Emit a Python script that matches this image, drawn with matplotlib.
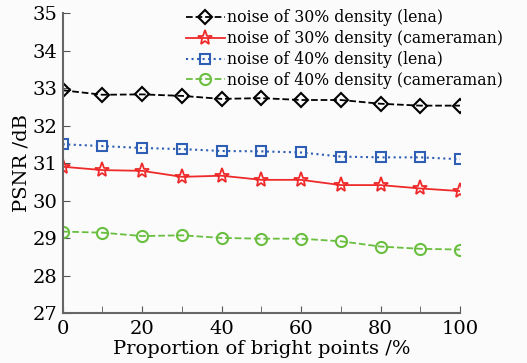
import numpy as np
import matplotlib
matplotlib.use('Agg')
import matplotlib.pyplot as plt
from matplotlib.ticker import MultipleLocator

plt.rcParams['font.family'] = ['DejaVu Serif']
plt.rcParams['mathtext.fontset'] = 'dejavuserif'

x = [0, 10, 20, 30, 40, 50, 60, 70, 80, 90, 100]
lena30 = [32.95, 32.83, 32.84, 32.80, 32.72, 32.74, 32.69, 32.69, 32.59, 32.54, 32.54]
cam30 = [30.91, 30.82, 30.80, 30.64, 30.67, 30.56, 30.56, 30.42, 30.42, 30.33, 30.26]
lena40 = [31.51, 31.46, 31.41, 31.38, 31.33, 31.32, 31.29, 31.18, 31.16, 31.16, 31.11]
cam40 = [29.18, 29.15, 29.06, 29.08, 29.01, 28.99, 28.99, 28.92, 28.78, 28.72, 28.70]

fig = plt.figure(figsize=(5.27, 3.63), dpi=100)
fig.patch.set_facecolor('#fbfbfb')
ax = fig.add_axes([0.119, 0.137, 0.754, 0.826])
ax.set_facecolor('#fbfbfb')

ax.plot(x, lena30, '--', color='black', marker='D', ms=7, mfc='none', mew=1.5, lw=1.3,
        label='noise of 30% density (lena)')
ax.plot(x, cam30, '-', color='#ee2a2a', marker='*', ms=11, mfc='none', mew=1.3, lw=1.3,
        label='noise of 30% density (cameraman)')
ax.plot(x, lena40, ':', color='#2e5fb5', marker='s', ms=7, mfc='none', mew=1.5, lw=1.5,
        label='noise of 40% density (lena)')
ax.plot(x, cam40, '--', color='#6abf40', marker='o', ms=8, mfc='none', mew=1.5, lw=1.3,
        label='noise of 40% density (cameraman)')

ax.set_xlim(0, 100)
ax.set_ylim(27, 35)
ax.xaxis.set_major_locator(MultipleLocator(20))
ax.xaxis.set_minor_locator(MultipleLocator(10))
ax.yaxis.set_major_locator(MultipleLocator(1))
ax.tick_params(which='both', direction='in', top=False, right=False, labelsize=14, color='#555555')
ax.tick_params(which='major', length=5)
ax.tick_params(which='minor', length=5)
ax.tick_params(axis='x', pad=5)
for s in ['top', 'right']:
    ax.spines[s].set_visible(False)
for s in ['left', 'bottom']:
    ax.spines[s].set_color('#666666')
    ax.spines[s].set_linewidth(1.5)

ax.set_xlabel('Proportion of bright points /%', fontsize=14, labelpad=1)
ax.set_ylabel('PSNR /dB', fontsize=14, labelpad=2)

ax.legend(loc='upper right', bbox_to_anchor=(1.125, 1.035), frameon=False, fontsize=11.3,
          handlelength=2.5, handletextpad=0.15, labelspacing=0.25, borderaxespad=0)

fig.savefig('out.png', dpi=100, facecolor=fig.get_facecolor())
